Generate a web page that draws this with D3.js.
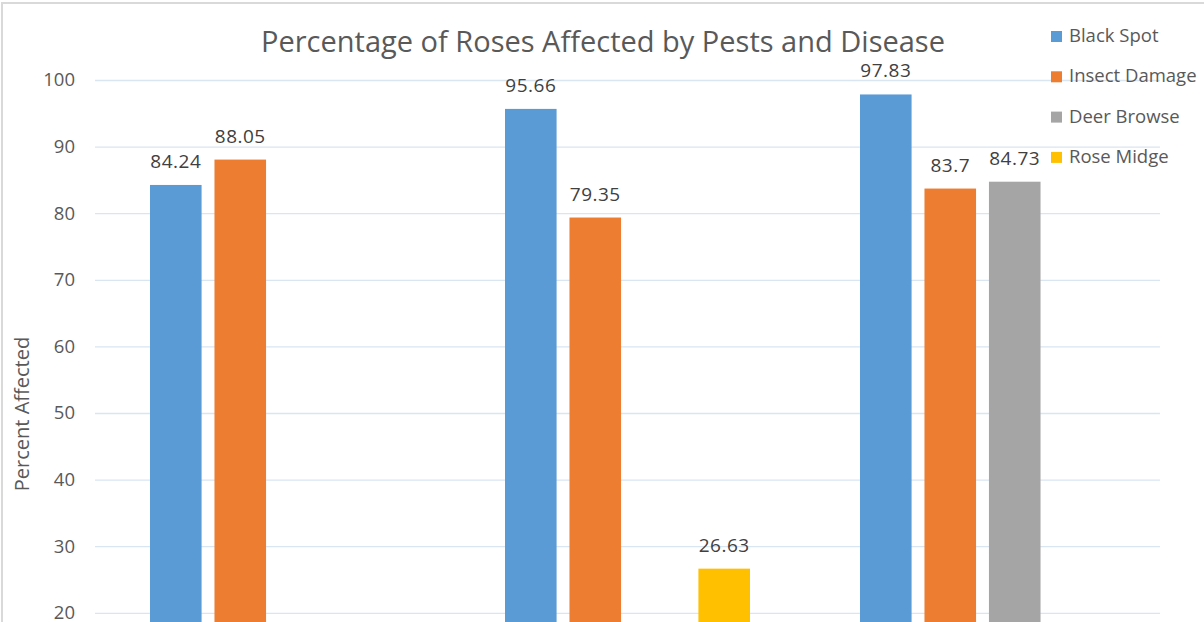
<!DOCTYPE html>
<html lang="en">
  <meta charset="utf-8">
  <style>
    body { margin: 0; background: #fff; }
    svg { display: block; font-family: "Open Sans", Lato, sans-serif; }
  </style>
  <body>
    <svg width="1204" height="622"></svg>

    <script src="https://d3js.org/d3.v7.min.js"></script>
    <script>
    // data
    let categories = ['Group 1', 'Group 2', 'Group 3']
    let seriesNames = ['Black Spot', 'Insect Damage', 'Deer Browse', 'Rose Midge']
    let blackSpot = [84.24, 95.66, 97.83]
    let insectDamage = [88.05, 79.35, 83.7]
    let deerBrowse = [null, null, 84.73]
    let roseMidge = [null, 26.63, null]
    let yTicks = [20, 30, 40, 50, 60, 70, 80, 90, 100]
    let colors = ['#5B9BD5', '#ED7D31', '#A5A5A5', '#FFC000']

    let seriesValues = [blackSpot, insectDamage, deerBrowse, roseMidge]

    let svg = d3.select('svg')

    // chart frame (only top and left edges are in view)
    svg.append('path')
       .attr('d', 'M2,622 V3 H1204')
       .attr('fill', 'none')
       .attr('stroke', '#d9d9d9')
       .attr('stroke-width', 2)

    // scales
    let x0 = d3.scaleBand()
               .domain(categories)
               .range([95, 1160])
    let x1 = d3.scaleBand()
               .domain(seriesNames)
               .range([55, 300])
               .paddingInner(0.2)
    let y = d3.scaleLinear()
              .domain([0, 100])
              .range([746, 80])

    // gridlines + y labels
    let yAxis = g => g.call(d3.axisLeft(y).tickValues(yTicks).tickSize(-1065).tickPadding(20))
    let gy = svg.append('g').attr('transform', 'translate(95,0)').call(yAxis)
    gy.select('.domain').remove()
    gy.selectAll('.tick line').attr('stroke', '#dae5f2').attr('stroke-width', 1.3)
    gy.selectAll('.tick text')
      .attr('fill', '#595959')
      .attr('font-size', '18.5px')
      .attr('font-family', '"Open Sans", sans-serif')

    // bars
    let groups = svg.append('g').selectAll('g')
       .data(categories).enter()
       .append('g')
       .attr('transform', d => `translate(${x0(d)},0)`)

    let barData = (c, ci) => seriesNames.map((s, si) => ({ s: s, si: si, v: seriesValues[si][ci] }))
                                          .filter(d => d.v != null)

    groups.selectAll('rect')
       .data((c, ci) => barData(c, ci)).enter()
       .append('rect')
       .attr('x', d => x1(d.s))
       .attr('y', d => y(d.v))
       .attr('width', x1.bandwidth())
       .attr('height', d => y(0) - y(d.v))
       .attr('fill', d => colors[d.si])

    groups.selectAll('text')
       .data((c, ci) => barData(c, ci)).enter()
       .append('text')
       .attr('x', d => x1(d.s) + x1.bandwidth() / 2)
       .attr('y', d => y(d.v) - 17)
       .attr('text-anchor', 'middle')
       .attr('font-size', '19px')
       .attr('letter-spacing', '0.5px')
       .attr('fill', '#404040')
       .text(d => d.v)

    // title
    svg.append('text')
       .attr('x', 603)
       .attr('y', 52)
       .attr('text-anchor', 'middle')
       .attr('font-size', '29px')
       .attr('fill', '#595959')
       .text('Percentage of Roses Affected by Pests and Disease')

    // y axis title
    svg.append('text')
       .attr('transform', 'translate(29,414) rotate(-90)')
       .attr('text-anchor', 'middle')
       .attr('font-size', '20px')
       .attr('fill', '#595959')
       .text('Percent Affected')

    // legend
    let legend = svg.append('g').selectAll('g')
       .data(seriesNames).enter()
       .append('g')
       .attr('transform', (d, i) => `translate(1051,${31 + i * 40.3})`)
    legend.append('rect')
       .attr('width', 11)
       .attr('height', 11)
       .attr('fill', (d, i) => colors[i])
    legend.append('text')
       .attr('x', 18)
       .attr('y', 11)
       .attr('font-size', '18.5px')
       .attr('fill', '#595959')
       .text(d => d)
    </script>
</body>
</html>
